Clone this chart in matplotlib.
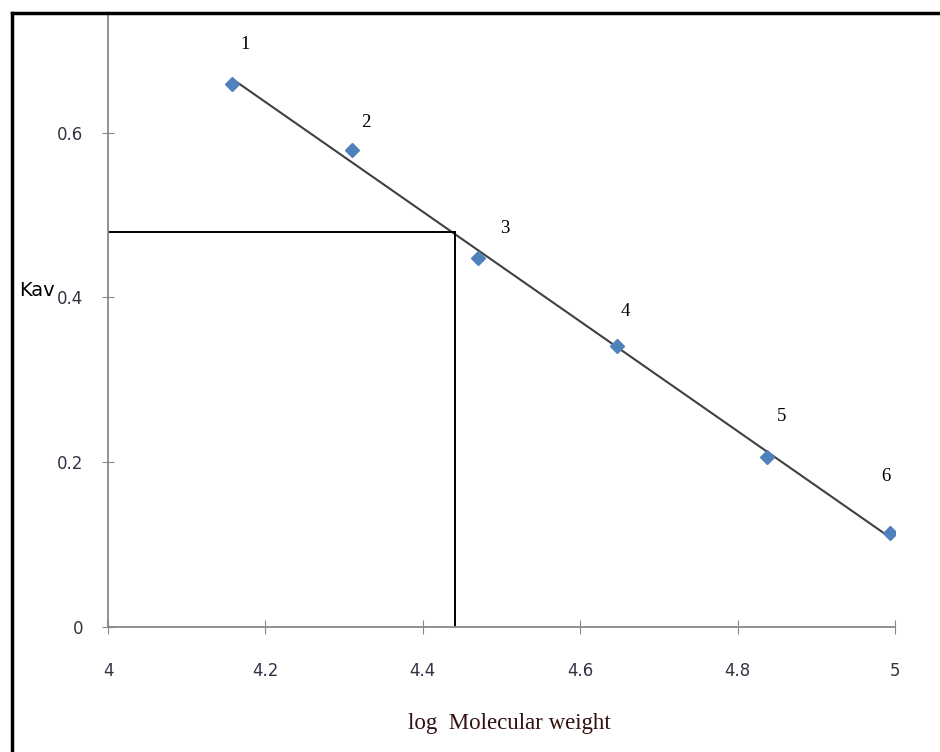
import matplotlib
matplotlib.use("Agg")
import matplotlib.pyplot as plt
import numpy as np
from matplotlib.lines import Line2D

# Data
log_mw = [4.158, 4.310, 4.470, 4.647, 4.837, 4.994]
kav = [0.659, 0.579, 0.448, 0.341, 0.206, 0.114]
point_labels = ["1", "2", "3", "4", "5", "6"]
unknown_log_mw = 4.441
unknown_kav = 0.479
x_ticks = [4, 4.2, 4.4, 4.6, 4.8, 5]
x_tick_labels = ["4", "4.2", "4.4", "4.6", "4.8", "5"]
y_ticks = [0, 0.2, 0.4, 0.6]
y_tick_labels = ["0", "0.2", "0.4", "0.6"]

# label offsets (points) - styling
label_offsets = [(9, 28), (10, 20), (19, 21), (6, 25), (11, 29), (-3, 41)]

fig = plt.figure(figsize=(9.4, 7.52), dpi=100)
ax = fig.add_axes([108/940, 1-627/752, (895-108)/940, (627-13)/752])
ax.set_xlim(4, 5)
ax.set_ylim(0, 0.745)

# trendline (least squares through data)
m, b = np.polyfit(log_mw, kav, 1)
xl = np.array([log_mw[0], log_mw[-1]])
ax.plot(xl, m*xl + b, color="#404040", lw=1.5, zorder=2)

# reference lines for unknown
ax.plot([4, unknown_log_mw], [unknown_kav, unknown_kav], color="black", lw=1.4, zorder=2)
ax.plot([unknown_log_mw, unknown_log_mw], [0, unknown_kav], color="black", lw=1.4, zorder=2)

ax.plot(log_mw, kav, linestyle="none", marker="D", ms=7, color="#4F81BD", zorder=3)

for x, y, lab, off in zip(log_mw, kav, point_labels, label_offsets):
    ax.annotate(lab, (x, y), xytext=off, textcoords="offset points",
                ha="center", va="center", fontsize=13.5, family="Liberation Serif", color="black")

for s in ["top", "right"]:
    ax.spines[s].set_visible(False)
for s in ["left", "bottom"]:
    ax.spines[s].set_color("#888888")
    ax.spines[s].set_linewidth(1.3)

ax.set_xticks(x_ticks)
ax.set_xticklabels(x_tick_labels)
ax.set_yticks(y_ticks)
ax.set_yticklabels(y_tick_labels)
ax.tick_params(axis="both", labelsize=12, labelcolor="#333344", color="#888888")
ax.tick_params(axis="y", direction="inout", length=8, pad=14)
ax.tick_params(axis="x", direction="inout", length=10, pad=20)

fig.text(509/940, 1-723/752, "log  Molecular weight", ha="center", va="center",
         fontsize=16.5, family="Liberation Serif", color="#331111")
fig.text(19/940, 1-290/752, "Kav", ha="left", va="center", fontsize=14,
         family="Liberation Sans Narrow", color="black")

# frame: top and left border
fig.add_artist(Line2D([12/940, 1], [1-13/752, 1-13/752], transform=fig.transFigure,
                      color="black", lw=2.5))
fig.add_artist(Line2D([12/940, 12/940], [0, 1-13/752], transform=fig.transFigure,
                      color="black", lw=2.5))

fig.savefig("out.png", dpi=100)
